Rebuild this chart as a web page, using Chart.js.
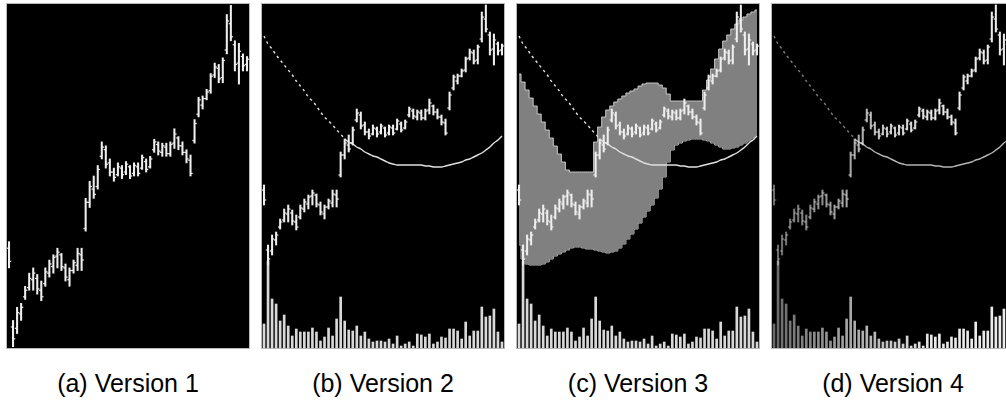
<!DOCTYPE html>
<html>
<head>
<meta charset="utf-8">
<script src="https://cdn.jsdelivr.net/npm/chart.js@4.4.1/dist/chart.umd.min.js"></script>
<style>
    body { margin: 0; width: 1006px; height: 405px; overflow: hidden; background: #fff; position: relative; }
    .panel { position: absolute; top: 3px; width: 242px; height: 344px; border: 1px solid #b8b8b8; background: #000; }
    .panel canvas { display: block; }
    .caption { position: absolute; top: 368px; width: 244px; text-align: center; font-family: "Liberation Sans", Arial, sans-serif; font-size: 25px; line-height: 30px; color: #000; white-space: nowrap; }
</style>
</head>
<body>

<div class="panel" style="left:6px"><canvas id="g1" width="242" height="344"></canvas></div>
<div class="panel" style="left:261px"><canvas id="g2" width="242" height="344"></canvas></div>
<div class="panel" style="left:516px"><canvas id="g3" width="242" height="344"></canvas></div>
<div class="panel" style="left:771px"><canvas id="g4" width="242" height="344"></canvas></div>

<div class="caption" style="left:6px">(a) Version 1</div>
<div class="caption" style="left:261px">(b) Version 2</div>
<div class="caption" style="left:516px">(c) Version 3</div>
<div class="caption" style="left:771px">(d) Version 4</div>

<script>
// dati (60 sedute)
const massimi = [28.0, 22.0, 23.0, 23.3, 24.6, 25.6, 26.0, 25.5, 25.0, 26.0,
    26.6, 27.0, 27.5, 27.1, 26.3, 26.0, 26.6, 27.5, 27.5, 31.3,
    32.6, 33.0, 33.8, 35.6, 35.3, 34.3, 33.6, 34.0, 33.8, 34.1,
    33.8, 34.0, 34.0, 34.6, 34.3, 34.5, 35.8, 35.6, 35.5, 35.5,
    35.6, 36.6, 36.0, 35.6, 35.0, 34.6, 37.3, 39.0, 39.1, 39.6,
    40.8, 41.6, 41.5, 42.0, 45.3, 46.0, 43.3, 43.1, 42.3, 42.1];
const minimi = [26.0, 20.0, 21.0, 22.0, 23.6, 24.3, 24.3, 24.0, 23.5, 24.6,
    25.3, 25.6, 26.0, 25.8, 25.0, 24.6, 25.6, 25.8, 25.8, 28.8,
    30.6, 31.3, 32.0, 34.3, 33.6, 33.0, 32.6, 33.0, 32.8, 33.1,
    32.8, 33.0, 33.0, 33.5, 33.3, 33.6, 34.8, 34.6, 34.5, 34.5,
    34.5, 35.1, 35.0, 34.6, 34.0, 33.0, 35.5, 37.5, 38.1, 38.8,
    39.3, 40.5, 40.1, 40.1, 42.3, 43.3, 41.0, 40.0, 41.0, 41.0];
const aperture = [27.5, 21.5, 21.4, 22.5, 23.8, 24.5, 25.1, 25.2, 24.3, 24.8,
    25.6, 26.1, 26.9, 27.0, 26.0, 25.1, 25.8, 26.2, 27.0, 29.0,
    31.0, 32.0, 32.2, 34.5, 35.0, 34.0, 33.3, 33.1, 33.6, 33.3,
    33.7, 33.2, 33.7, 33.6, 34.1, 33.7, 35.0, 35.4, 34.8, 35.2,
    34.7, 35.5, 35.9, 35.3, 34.8, 34.2, 35.7, 37.7, 38.4, 38.9,
    39.5, 40.7, 41.2, 40.5, 42.6, 44.6, 43.0, 41.6, 42.1, 41.5];
const chiusure = [26.5, 20.6, 22.6, 23.0, 24.3, 25.2, 25.6, 24.4, 23.8, 25.7,
    26.3, 26.8, 27.2, 26.1, 25.3, 25.8, 26.4, 27.1, 26.6, 31.0,
    32.2, 31.6, 33.5, 35.2, 33.9, 33.3, 32.9, 33.7, 33.1, 33.9,
    33.0, 33.8, 33.2, 34.4, 33.5, 34.3, 35.6, 34.9, 35.3, 34.7,
    35.4, 36.2, 35.3, 34.8, 34.3, 33.2, 37.0, 38.8, 38.9, 39.4,
    40.6, 41.3, 40.4, 41.8, 44.8, 43.6, 41.5, 42.5, 41.4, 41.9];
// volumi (migliaia)
const volumi = [24, 87, 49, 44, 27, 33, 22, 12, 19, 16,
    16, 16, 20, 16, 7, 11, 20, 12, 29, 51,
    27, 18, 17, 22, 12, 16, 9, 6, 7, 7,
    6, 9, 4, 12, 2, 4, 6, 2, 14, 13,
    11, 14, 4, 6, 11, 10, 19, 19, 17, 9,
    26, 12, 17, 17, 41, 31, 32, 39, 16, 6];
// curva di tendenza
const curva = [42.9, 42.1, 41.6, 41.0, 40.5, 40.0, 39.5, 39.0, 38.4, 37.9,
    37.4, 36.8, 36.4, 35.9, 35.3, 34.8, 34.4, 34.0, 33.5, 33.1,
    32.6, 32.3, 32.1, 31.8, 31.6, 31.3, 31.1, 30.9, 30.8, 30.6,
    30.4, 30.2, 30.1, 30.0, 30.0, 30.0, 30.0, 30.0, 30.0, 30.0,
    29.9, 29.9, 29.8, 29.8, 29.8, 29.9, 30.0, 30.1, 30.2, 30.3,
    30.5, 30.6, 30.8, 31.0, 31.2, 31.5, 31.8, 32.2, 32.5, 32.9];
// banda (versione 3)
const bandaSup = [39.1, 38.3, 37.5, 36.7, 35.9, 35.1, 34.3, 33.5, 32.7, 31.9,
    31.1, 30.3, 29.5, 29.3, 29.3, 29.3, 29.3, 29.3, 29.3, 32.3,
    33.8, 34.8, 35.5, 35.9, 36.3, 36.6, 36.9, 37.2, 37.4, 37.6,
    37.9, 38.1, 38.2, 38.2, 38.2, 38.0, 37.7, 37.1, 36.4, 36.4,
    36.4, 36.4, 36.4, 36.4, 36.4, 36.4, 37.5, 38.5, 39.6, 40.6,
    41.6, 42.4, 43.0, 43.6, 44.1, 44.5, 44.8, 45.1, 45.3, 45.5];
const bandaInf = [22.0, 20.6, 20.1, 20.0, 20.0, 20.0, 20.1, 20.3, 20.6, 20.9,
    21.1, 21.3, 21.5, 21.7, 21.8, 21.8, 21.7, 21.6, 21.6, 21.5,
    21.4, 21.3, 21.2, 21.3, 21.4, 21.7, 22.1, 22.6, 23.1, 23.6,
    24.2, 24.8, 25.4, 26.0, 26.7, 27.6, 28.8, 30.3, 31.5, 32.0,
    32.2, 32.4, 32.5, 32.6, 32.6, 32.6, 32.5, 32.4, 32.2, 32.0,
    31.8, 31.6, 31.6, 31.7, 31.8, 32.0, 32.2, 32.4, 32.7, 33.0];

const etichette = massimi.map((v, i) => i + 1);
const NTRATTEGGIO = 20;

function colore(sfuma, base) {
    // versione 4: barre piu' scure a sinistra
    return function(ctx) {
        if (!sfuma) return base;
        const i = ctx.dataIndex !== undefined ? ctx.dataIndex : 0;
        const a = 0.45 + 0.55 * Math.min(1, i / 40);
        return 'rgba(235,235,235,' + a.toFixed(2) + ')';
    };
}

function creaGrafico(canvasId, conVolumi, conCurva, conBanda, sfuma) {
    const datasets = [];

    datasets.push({
        type: 'line', label: 'apertura', data: aperture, yAxisID: 'y', order: 1,
        showLine: false, pointStyle: 'dash', rotation: 180, pointRadius: 2.2, pointHoverRadius: 2.2,
        pointBorderColor: colore(sfuma, '#eeeeee'), pointBorderWidth: 1.2
    });
    datasets.push({
        type: 'line', label: 'chiusura', data: chiusure, yAxisID: 'y', order: 1,
        showLine: false, pointStyle: 'dash', rotation: 0, pointRadius: 2.2, pointHoverRadius: 2.2,
        pointBorderColor: colore(sfuma, '#eeeeee'), pointBorderWidth: 1.2
    });
    datasets.push({
        type: 'bar', label: 'min-max', data: minimi.map((v, i) => [v, massimi[i]]), yAxisID: 'y', order: 2,
        grouped: false, barThickness: 1.4, backgroundColor: colore(sfuma, '#eeeeee')
    });

    if (conCurva) {
        datasets.push({
            type: 'line', label: 'curva', data: curva, yAxisID: 'y', order: 3,
            borderColor: sfuma ? 'rgba(225,225,225,0.8)' : '#e0e0e0', borderWidth: 1.4,
            pointRadius: 0, tension: 0.3,
            segment: {
                borderDash: ctx => ctx.p1DataIndex <= NTRATTEGGIO ? [2.5, 3.5] : undefined,
                borderColor: ctx => (sfuma && ctx.p1DataIndex <= NTRATTEGGIO) ? 'rgba(225,225,225,0.55)' : undefined
            }
        });
    }

    if (conVolumi) {
        datasets.push({
            type: 'bar', label: 'volumi', data: volumi, yAxisID: 'yv', order: 4,
            grouped: false, barThickness: 2, backgroundColor: colore(sfuma, '#d8d8d8')
        });
    }

    if (conBanda) {
        datasets.push({
            type: 'line', label: 'banda inf', data: bandaInf, yAxisID: 'y', order: 6,
            borderColor: '#c8c8c8', borderWidth: 1, pointRadius: 0, stepped: 'middle', fill: false
        });
        datasets.push({
            type: 'line', label: 'banda sup', data: bandaSup, yAxisID: 'y', order: 5,
            borderColor: '#c8c8c8', borderWidth: 1, pointRadius: 0, stepped: 'middle',
            fill: '-1', backgroundColor: '#808080'
        });
    }

    const ctx = document.getElementById(canvasId).getContext('2d');
    return new Chart(ctx, {
        type: 'bar',
        data: { labels: etichette, datasets: datasets },
        options: {
            responsive: false,
            animation: false,
            layout: { padding: 0, autoPadding: false },
            plugins: { legend: { display: false }, tooltip: { enabled: false }, title: { display: false } },
            scales: {
                x: { type: 'category', display: false, offset: true, grid: { display: false } },
                y: {
                    display: false,
                    min: conVolumi ? 11.7 : 19.9,
                    max: conVolumi ? 46.1 : 46.1
                },
                yv: { display: false, min: 0, max: 344 }
            }
        }
    });
}

creaGrafico('g1', false, false, false, false);
creaGrafico('g2', true, true, false, false);
creaGrafico('g3', true, true, true, false);
creaGrafico('g4', true, true, false, true);
</script>
</body>
</html>
